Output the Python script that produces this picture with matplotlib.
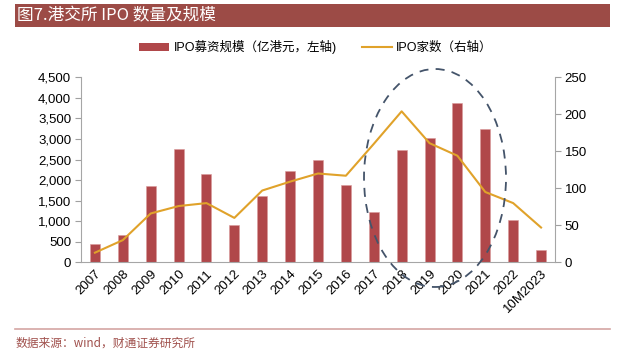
import matplotlib
matplotlib.use("Agg")
import matplotlib.pyplot as plt
from matplotlib.patches import Rectangle, Ellipse, Patch
from matplotlib.lines import Line2D
import numpy as np

plt.rcParams['font.family'] = ['Liberation Sans', 'Noto Sans CJK SC', 'DejaVu Sans']

categories = ['2007', '2008', '2009', '2010', '2011', '2012', '2013', '2014', '2015',
              '2016', '2017', '2018', '2019', '2020', '2021', '2022', '10M2023']
ipo_funds = [445, 672, 1856, 2749, 2141, 900, 1613, 2228, 2481,
             1873, 1224, 2732, 3031, 3875, 3235, 1029, 300]
ipo_counts = [13, 30, 66, 76, 80, 60, 97, 109, 120,
              117, 160, 204, 161, 144, 95, 80, 47]

W, H = 629, 355
fig = plt.figure(figsize=(W / 100, H / 100), dpi=100)

def fx(px):
    return px / W

def fy(py):
    return 1 - py / H

# title bar
fig.patches.append(Rectangle((fx(15), fy(26.7)), fx(610) - fx(15), fy(4) - fy(26.7),
                             transform=fig.transFigure, facecolor='#9C4B46', edgecolor='none'))
fig.text(fx(17), fy(15.5), '图7.港交所 IPO 数量及规模', color='white', fontsize=12,
         family=['Noto Sans CJK SC', 'DejaVu Sans'], va='center', ha='left')

# footer
fig.add_artist(Line2D([fx(15), fx(610)], [fy(329.3), fy(329.3)], transform=fig.transFigure,
                      color='#D4A5A3', lw=1.2))
fig.text(fx(16), fy(343.3), '数据来源：wind，财通证券研究所', color='#A0504C', fontsize=8.5,
         family=['Noto Sans CJK SC', 'DejaVu Sans'], va='center', ha='left')

left, right, top, bottom = 81, 555, 77.3, 262.3
ax = fig.add_axes([fx(left), fy(bottom), fx(right) - fx(left), fy(top) - fy(bottom)])
x = np.arange(len(categories))
ax.bar(x, ipo_funds, width=0.36, color='#B0474A', edgecolor='#D99A9A', linewidth=0.4, zorder=2)
ax.set_xlim(-0.5, len(categories) - 0.5)
ax.set_ylim(0, 4500)
ax.set_yticks(np.arange(0, 4501, 500))
ax.set_yticklabels([f'{v:,}' for v in range(0, 4501, 500)], fontsize=9.5)
ax.set_xticks(x)
ax.set_xticklabels(categories, rotation=45, ha='right', rotation_mode='anchor', fontsize=9.5)
ax.tick_params(axis='x', length=0, pad=4)
ax.tick_params(axis='y', length=4, color='#A0A0A0', pad=3)
for s in ['top', 'right']:
    ax.spines[s].set_visible(False)
for s in ['left', 'bottom']:
    ax.spines[s].set_color('#A6A6A6')

ax2 = ax.twinx()
ax2.plot(x, ipo_counts, color='#E0A22A', lw=1.5, zorder=3)
ax2.set_ylim(0, 250)
ax2.set_yticks(np.arange(0, 251, 50))
ax2.set_yticklabels([str(v) for v in range(0, 251, 50)], fontsize=9.5)
ax2.tick_params(axis='y', length=4, color='#A0A0A0', pad=3)
for s in ['top', 'left', 'bottom']:
    ax2.spines[s].set_visible(False)
ax2.spines['right'].set_color('#A6A6A6')

# legend
handles = [Patch(facecolor='#B0474A', edgecolor='none'),
           Line2D([0], [0], color='#E0A22A', lw=1.5)]
labels = ['IPO募资规模（亿港元，左轴)', 'IPO家数（右轴）']
fig.legend(handles, labels, loc='center', bbox_to_anchor=(fx(316), fy(47)), ncol=2,
           frameon=False, fontsize=9, handlelength=2.4, handleheight=0.6,
           columnspacing=2.0, handletextpad=0.35)

# dashed ellipse
fig.add_artist(Ellipse((fx(435), fy(178)), fx(142), 218 / H, transform=fig.transFigure,
                       fill=False, edgecolor='#44546A', lw=1.3, linestyle=(0, (5, 4)), zorder=5))

fig.savefig('out.png', dpi=100)
